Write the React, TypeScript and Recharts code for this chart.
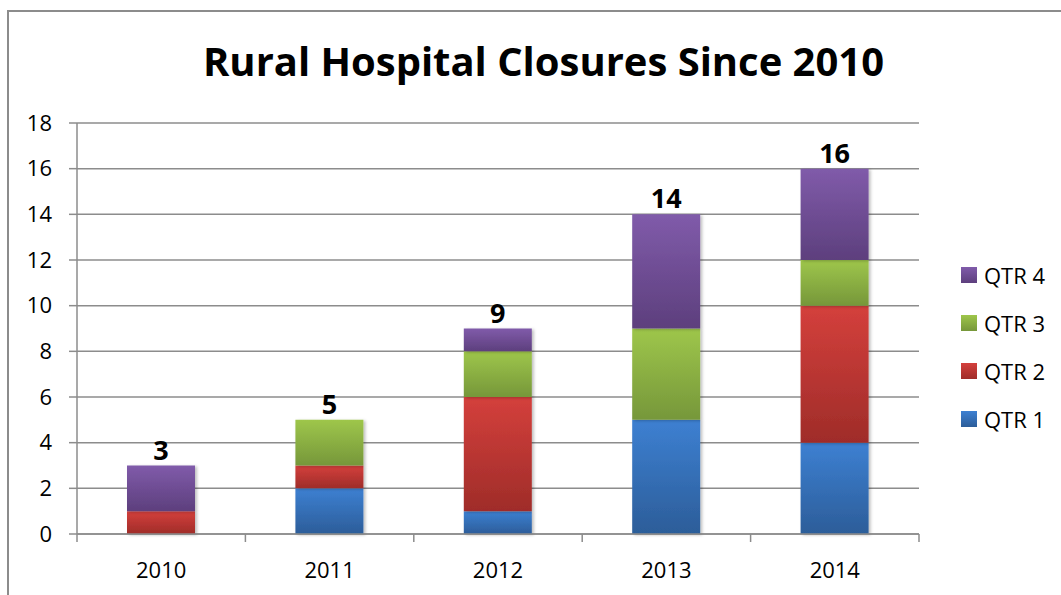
import React from 'react';
import { BarChart, Bar, XAxis, YAxis, CartesianGrid, LabelList } from 'recharts';

const years = ['2010', '2011', '2012', '2013', '2014'];
const qtr1 = [0, 2, 1, 5, 4];
const qtr2 = [1, 1, 5, 0, 6];
const qtr3 = [0, 2, 2, 4, 2];
const qtr4 = [2, 0, 1, 5, 4];
const yTicks = [0, 2, 4, 6, 8, 10, 12, 14, 16, 18];

const data = years.map((year, i) => ({
  year,
  q1: qtr1[i],
  q2: qtr2[i],
  q3: qtr3[i],
  q4: qtr4[i],
  total: qtr1[i] + qtr2[i] + qtr3[i] + qtr4[i],
}));

const series = [
  { key: 'q1', name: 'QTR 1', top: '#3D80D2', bottom: '#2C5D99' },
  { key: 'q2', name: 'QTR 2', top: '#D4403C', bottom: '#9F2C29' },
  { key: 'q3', name: 'QTR 3', top: '#9EC64B', bottom: '#76973A' },
  { key: 'q4', name: 'QTR 4', top: '#805BAA', bottom: '#5D3F7D' },
];

const FONT = '"Open Sans", "Liberation Sans", sans-serif';
const GRAY = '#8c8c8c';

const CHART_W = 1061;
const CHART_H = 595;
const MARGIN = { top: 123, right: 142, left: 17, bottom: 21 };
const Y_AXIS_W = 60;
const PLOT_W = CHART_W - MARGIN.left - MARGIN.right - Y_AXIS_W;
const BAND = PLOT_W / years.length;

// index of the topmost non-zero series for each category
const topSeriesIndex = data.map((d: any) => {
  let top = -1;
  series.forEach((s, i) => {
    if (d[s.key] > 0) top = i;
  });
  return top;
});

const CategoryTick = (props: any) => {
  const { x, y, payload, index } = props;
  const left = x - BAND / 2;
  const right = x + BAND / 2;
  return (
    <g>
      <line x1={left} x2={left} y1={y} y2={y + 8} stroke={GRAY} strokeWidth={1.5} />
      {index === years.length - 1 && (
        <line x1={right} x2={right} y1={y} y2={y + 8} stroke={GRAY} strokeWidth={1.5} />
      )}
      <text x={x} y={y + 44} textAnchor="middle" fontFamily={FONT} fontSize={22} fill="#000">
        {payload.value}
      </text>
    </g>
  );
};

const makeTotalLabel = (seriesIdx: number) => (props: any) => {
  const { x, y, width, value } = props;
  const i = years.indexOf(String(value));
  if (i < 0 || topSeriesIndex[i] !== seriesIdx) return null;
  return (
    <text
      x={Number(x) + Number(width) / 2}
      y={Number(y) - 6}
      textAnchor="middle"
      fontFamily={FONT}
      fontWeight="bold"
      fontSize={27}
      fill="#000"
    >
      {data[i].total}
    </text>
  );
};

const LegendBlock = () => (
  <div
    style={{
      position: 'absolute',
      left: 961,
      top: 251,
      fontFamily: FONT,
      fontSize: 22,
      color: '#000',
    }}
  >
    {[...series].reverse().map((s) => (
      <div key={s.key} style={{ display: 'flex', alignItems: 'center', height: 48 }}>
        <div
          style={{
            width: 16,
            height: 16,
            marginRight: 7,
            background: `linear-gradient(${s.top}, ${s.bottom})`,
          }}
        />
        <span>{s.name}</span>
      </div>
    ))}
  </div>
);

export default function App() {
  return (
    <div
      style={{
        position: 'absolute',
        left: 0,
        top: 0,
        width: CHART_W,
        height: CHART_H,
        overflow: 'hidden',
        background: '#fff',
      }}
    >
      <div
        style={{
          position: 'absolute',
          left: 7,
          top: 10,
          width: 1100,
          height: 700,
          border: `2px solid ${GRAY}`,
        }}
      />
      <svg style={{ position: 'absolute', left: 0, top: 0 }} width={CHART_W} height={110}>
        <text
          x={543.5}
          y={76}
          textAnchor="middle"
          fontFamily={FONT}
          fontWeight="bold"
          fontSize={40}
          textLength={681}
          lengthAdjust="spacingAndGlyphs"
          fill="#000"
        >
          Rural Hospital Closures Since 2010
        </text>
      </svg>
      <div style={{ position: 'absolute', left: 0, top: 0 }}>
        <BarChart width={CHART_W} height={CHART_H} data={data} margin={MARGIN}>
          <defs>
            {series.map((s) => (
              <linearGradient key={s.key} id={`g_${s.key}`} x1="0" y1="0" x2="0" y2="1">
                <stop offset="0%" stopColor={s.top} />
                <stop offset="100%" stopColor={s.bottom} />
              </linearGradient>
            ))}
            <filter id="barShadow" x="-10%" y="-10%" width="130%" height="130%">
              <feDropShadow dx="2" dy="1" stdDeviation="1.5" floodColor="#000" floodOpacity="0.25" />
            </filter>
          </defs>
          <CartesianGrid vertical={false} stroke={GRAY} strokeWidth={1.5} />
          <XAxis
            dataKey="year"
            interval={0}
            height={40}
            axisLine={{ stroke: GRAY, strokeWidth: 1.5 }}
            tickLine={false}
            tickSize={0}
            tickMargin={0}
            tick={<CategoryTick />}
          />
          <YAxis
            width={Y_AXIS_W}
            domain={[0, 18]}
            ticks={yTicks}
            interval={0}
            tickSize={8}
            tickMargin={17}
            axisLine={{ stroke: GRAY, strokeWidth: 1.5 }}
            tickLine={{ stroke: GRAY, strokeWidth: 1.5 }}
            tick={{ fontFamily: FONT, fontSize: 22, fill: '#000' }}
          />
          {series.map((s, idx) => (
            <Bar
              key={s.key}
              dataKey={s.key}
              name={s.name}
              stackId="a"
              barSize={68}
              fill={`url(#g_${s.key})`}
              style={{ filter: 'url(#barShadow)' }}
              isAnimationActive={false}
            >
              <LabelList dataKey="year" content={makeTotalLabel(idx)} />
            </Bar>
          ))}
        </BarChart>
      </div>
      <LegendBlock />
    </div>
  );
}
